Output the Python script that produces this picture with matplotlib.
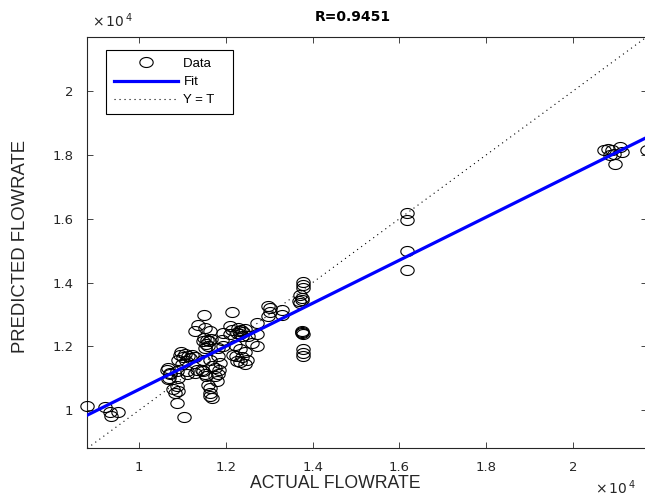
import numpy as np
import matplotlib
matplotlib.use("Agg")
import matplotlib.pyplot as plt
from matplotlib.path import Path
from matplotlib.ticker import FuncFormatter

# values (flowrate units)
actual = [
    8800, 9210, 9320, 9500, 9340, 10860, 11020, 10780, 10900, 10820,
    10670, 10710, 10670, 10980, 11090, 11090, 10630, 10860, 10710, 11320,
    11480, 11550, 11520, 11750, 11790, 11590, 11630, 11630, 11630, 11670,
    11440, 11670, 11630, 11750, 11860, 11490, 11360, 11520, 11290, 11630,
    11490, 11560, 11610, 11540, 11650, 11470, 11580, 11520,
    10940, 11050, 11120, 11220, 11010, 11170, 11080, 10890, 11290, 10960,
    10860, 10690, 10900,
    12130, 12090, 12130, 12090,
    12280, 12350, 12390, 12320, 12440, 12250, 12370, 12300,
    12510, 12590, 11900,
    12210, 12320, 12440, 12160, 12370, 12480, 12320, 12440, 12230,
    11940, 11940, 11820, 11820, 11840, 11820, 12250,
    13020, 13020, 12980, 13290, 13300, 12980, 12710, 12710, 12710,
    13780, 13780, 13780, 13710, 13750, 13710, 13750, 13680,
    13750, 13750, 13780, 13760,
    13780, 13780, 13780,
    16180, 16180, 16180, 16180,
    20710, 20820, 20940, 21090, 21130, 20860, 20970, 20900, 21710,
    11480, 11290,
]
predicted = [
    10120, 10080, 9940, 9940, 9810, 10230, 9790, 10650, 10590, 10540,
    11330, 11170, 10960, 11430, 11220, 11120, 11270, 11220, 11120, 11270,
    11220, 11060, 11120, 11060, 10910, 10800, 10700, 10540, 10440, 10390,
    11270, 11380, 11580, 11330, 11490, 12990, 12680, 12580, 12470, 12470,
    12270, 12210, 12150, 12080, 12240, 12150, 12020, 11930,
    11740, 11770, 11710, 11740, 11650, 11620, 11550, 11580, 11650, 11830,
    10750, 11010, 11010,
    13090, 12630, 12520, 12370,
    12580, 12520, 12460, 12400, 12550, 12430, 12330, 12490,
    12310, 12110, 12210,
    12050, 11900, 11830, 11740, 11650, 11580, 11520, 11430, 11710,
    12420, 12000, 11960, 11680, 11270, 11120, 11530,
    13200, 13090, 12940, 13150, 12990, 13250, 12740, 12370, 12000,
    14030, 13930, 13820, 13620, 13460, 13360, 13520, 13430,
    12470, 12420, 12370, 12440,
    11900, 11790, 11690,
    16190, 15960, 14990, 14380,
    18150, 18200, 18040, 18250, 18090, 17990, 17730, 18150, 18150,
    11580, 11170,
]

# fitted line: predicted = slope * actual + intercept
fit_slope = 0.675
fit_intercept = 3900
r_value = "0.9451"

tick_values = [10000, 12000, 14000, 16000, 18000, 20000]
tick_labels = ["1", "1.2", "1.4", "1.6", "1.8", "2"]

lims = (min(actual), max(actual))

# slightly flattened circle, as in the exported picture
t = np.linspace(0, 2 * np.pi, 60)
ellipse = Path(np.column_stack([np.cos(t), 0.75 * np.sin(t)]), closed=True)

fig = plt.figure(figsize=(6.45, 4.97), dpi=100)
ax = fig.add_axes([0.1353, 0.098, 0.8678, 0.8282])

ax.plot(actual, predicted, linestyle="none", marker=ellipse, markersize=9.6,
        markerfacecolor="none", markeredgecolor="black", markeredgewidth=0.8,
        label="Data   ", clip_on=False, zorder=3)

xs = np.array(lims)
ax.plot(xs, fit_slope * xs + fit_intercept, color=(0, 0, 1), linewidth=2.3,
        label="Fit", zorder=4)
ax.plot(xs, xs, color="black", linewidth=0.8, linestyle=(0, (1, 3.5)),
        label="Y = T   ", zorder=2)

ax.set_xlim(lims)
ax.set_ylim(lims)

fmt = FuncFormatter(lambda v, p: tick_labels[tick_values.index(round(v))]
                    if round(v) in tick_values else "")
ax.set_xticks(tick_values)
ax.set_yticks(tick_values)
ax.xaxis.set_major_formatter(fmt)
ax.yaxis.set_major_formatter(fmt)
ax.tick_params(direction="in", length=4, width=0.6, top=True, right=True,
               labelsize=9.5, colors="#262626")
ax.tick_params(axis="x", pad=9)
ax.tick_params(axis="y", pad=10)
for s in ax.spines.values():
    s.set_linewidth(0.8)
    s.set_color("#262626")

ax.set_xlabel("ACTUAL FLOWRATE", fontsize=12.7, family="Liberation Sans",
              color="#262626")
ax.xaxis.set_label_coords(0.443, -0.066)
ax.set_ylabel("PREDICTED FLOWRATE", fontsize=13.3, family="Liberation Sans",
              color="#262626")
ax.yaxis.set_label_coords(-0.104, 0.49)
ax.set_title("R=" + r_value, fontsize=10, fontweight="bold", pad=11, x=0.475)

fig.text(0.142, 0.945, r"$\times\,10^{\,4}$", fontsize=10, color="#262626")
fig.text(0.922, 0.006, r"$\times\,10^{\,4}$", fontsize=10, color="#262626")

leg = ax.legend(loc="upper left", bbox_to_anchor=(0.034, 0.968), borderaxespad=0,
                prop={"family": "Liberation Sans", "size": 9.5},
                handlelength=4.8, handletextpad=0.45, labelspacing=0.45,
                fancybox=False, framealpha=1, edgecolor="black", borderpad=0.6)
leg.get_frame().set_linewidth(0.8)

fig.savefig("out.png", dpi=100)
